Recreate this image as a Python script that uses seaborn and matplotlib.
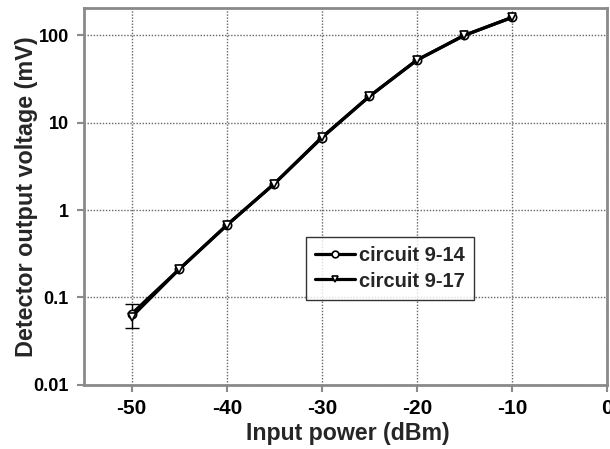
import matplotlib
matplotlib.use("Agg")
import matplotlib.pyplot as plt
import seaborn as sns
import pandas as pd
import numpy as np
from matplotlib.ticker import FixedLocator, FuncFormatter, NullLocator

power = [-50, -45, -40, -35, -30, -25, -20, -15, -10]
v_9_14 = [0.065, 0.21, 0.67, 2.0, 6.7, 20, 52, 100, 160]
v_9_17 = [0.060, 0.21, 0.67, 2.0, 6.8, 20, 52, 100, 160]
err_x = [-50]
err_y = [0.062]
err_lo = [0.045]
err_hi = [0.085]
series_names = ["circuit 9-14", "circuit 9-17"]

sns.set_theme(style="white")
plt.rcParams["font.family"] = ["Liberation Sans", "DejaVu Sans"]
plt.rcParams["font.weight"] = "bold"

df = pd.DataFrame({
    "power": power * 2,
    "voltage": v_9_14 + v_9_17,
    "series": [series_names[0]] * len(power) + [series_names[1]] * len(power),
})

fig = plt.figure(figsize=(6.10, 4.49), dpi=100)
ax = fig.add_axes([0.138, 0.143, 0.857, 0.839])

sns.lineplot(data=df, x="power", y="voltage", hue="series", style="series",
             palette=["black", "black"], markers={series_names[0]: "o", series_names[1]: "v"},
             dashes=False, linewidth=2.3, markersize=6, markerfacecolor="white",
             markeredgecolor="black", markeredgewidth=1.2, ax=ax, legend=True)

ax.errorbar(err_x, err_y,
            yerr=[[err_y[0] - err_lo[0]], [err_hi[0] - err_y[0]]],
            fmt="none", ecolor="black", elinewidth=1, capsize=5, capthick=1, zorder=1)

ax.set_yscale("log")
ax.set_ylim(0.01, 205)
ax.set_xlim(-55, 0)
ax.yaxis.set_major_locator(FixedLocator([0.01, 0.1, 1, 10, 100]))
ax.yaxis.set_minor_locator(NullLocator())
ax.yaxis.set_major_formatter(FuncFormatter(lambda v, p: "%g" % v))
ax.xaxis.set_major_locator(FixedLocator([-50, -40, -30, -20, -10, 0]))
ax.xaxis.set_major_formatter(FuncFormatter(lambda v, p: "%d" % v))

ax.grid(True, which="major", linestyle=(0, (1, 1.2)), color="#666666", linewidth=1)
for s in ax.spines.values():
    s.set_color("#8a8a8a")
    s.set_linewidth(2)
ax.tick_params(axis="both", which="major", direction="out", length=5, width=1.5,
               color="#8a8a8a", labelcolor="black", left=True, bottom=True)
ax.tick_params(axis="x", labelsize=15, pad=5)
ax.tick_params(axis="y", labelsize=13, pad=6)
for lab in ax.get_xticklabels() + ax.get_yticklabels():
    lab.set_fontweight("bold")

ax.set_xlabel("Input power (dBm)", fontsize=16.7, fontweight="bold")
ax.set_ylabel("Detector output voltage (mV)", fontsize=16.8, fontweight="bold")
ax.xaxis.set_label_coords(0.505, -0.098)
ax.yaxis.set_label_coords(-0.088, 0.5)

handles, labels = ax.get_legend_handles_labels()
leg = ax.legend(handles, labels, loc="upper left", bbox_to_anchor=(0.405, 0.418),
                frameon=True, fancybox=False, edgecolor="black", fontsize=14.5,
                handlelength=2.0, handletextpad=0.2, borderpad=0.45, labelspacing=0.3,
                markerscale=0.8)
leg.get_frame().set_linewidth(1)
for t in leg.get_texts():
    t.set_fontweight("bold")

fig.savefig("out.png", dpi=100, facecolor="white")
